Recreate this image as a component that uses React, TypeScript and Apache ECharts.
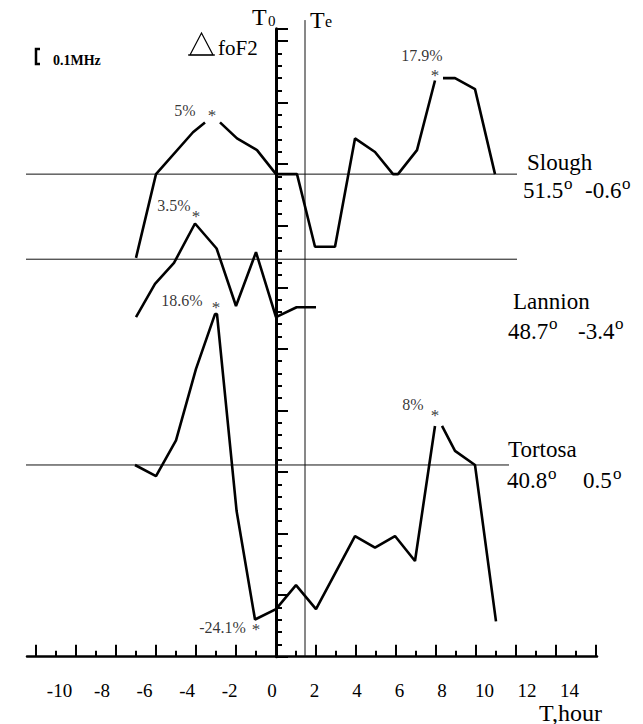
import React, { useEffect, useRef } from "react";
import * as echarts from "echarts";

// ---- axis ticks / labels ----
const tallTicks = [-12, -10, -8, -6, -4, -2, 0, 2, 4, 6, 8, 10, 12, 14, 16];
const shortTicks = [-11, -9, -7, -5, -3, -1, 1, 3, 5, 7, 9, 11, 13, 15];
const hourLabels = [-10, -8, -6, -4, -2, 0, 2, 4, 6, 8, 10, 12, 14];

// ---- stations ----
const stations = ["Slough", "Lannion", "Tortosa"];
const stationLat = ["51.5", "48.7", "40.8"];
const stationLon = ["-0.6", "-3.4", "0.5"];

// ΔfoF2 (MHz) relative to each station's zero line; null = gap at the asterisk
const sloughHours = [-7.0, -6.0, -4.15, -3.55, -3.2, -2.8, -1.95, -0.95, 0, 1.05, 1.95, 2.95, 3.95, 4.95, 5.85, 6.1, 7.05, 7.95, 8.15, 8.35, 8.95, 9.95, 10.95];
const sloughDelta = [-0.68, 0, 0.34, 0.42, null, 0.42, 0.29, 0.195, 0, 0, -0.59, -0.59, 0.29, 0.18, 0, 0, 0.195, 0.76, null, 0.78, 0.78, 0.69, 0];

const lannionHours = [-7.0, -6.05, -5.1, -4.05, -2.97, -2.0, -1.0, 0, 1.03, 2.0];
const lannionDelta = [-0.47, -0.2, -0.03, 0.29, 0.087, -0.38, 0.057, -0.47, -0.39, -0.39];

const tortosaHours = [-7.05, -6.0, -5.0, -4.0, -3.05, -2.95, -1.97, -1.05, 0, 1.0, 2.0, 3.95, 4.95, 5.95, 6.95, 7.95, 8.15, 8.3, 8.95, 9.95, 11.0];
const tortosaDelta = [0, -0.09, 0.2, 0.78, 1.225, 1.225, -0.374, -1.255, -1.17, -0.976, -1.17, -0.577, -0.672, -0.577, -0.78, 0.317, null, 0.317, 0.114, 0, -1.27];

// zero-line level of each station on the stacked vertical scale (MHz)
const baselineLevels = [3.919, 3.228, 1.557];
const baselineStart = [-13.15, -12.95, -12.7];
const baselineEnd = [12.05, 12.05, 11.65];
const teHour = 1.45;
const teTop = 5.17;

// peak annotations
const peakLabels = ["5%", "17.9%", "3.5%", "18.6%", "8%", "-24.1%"];
const starHours = [-3.2, 7.95, -4.0, -3.0, 7.95, -1.0];
const starLevels = [4.415, 4.74, 3.593, 2.854, 1.976, 0.236];
const labelHours = [-4.55, 7.3, -5.1, -4.7, 6.85, -2.675];
const labelLevels = [4.439, 4.88, 3.667, 2.894, 2.049, 0.236];

const SERIF = "Liberation Serif";

function build(hours: number[], delta: (number | null)[], base: number) {
  return hours.map((h, i) => (delta[i] == null ? [h, "-"] : [h, +(base + (delta[i] as number)).toFixed(4)]));
}

function txt(text: string, x: number, y: number, size: number, extra: any = {}) {
  return {
    type: "text",
    x,
    y,
    silent: true,
    style: { text, fontSize: size, fontFamily: SERIF, fill: "#000", align: "left", verticalAlign: "middle", ...extra },
  };
}

export default function App() {
  const ref = useRef<HTMLDivElement>(null);
  useEffect(() => {
    if (!ref.current) return;
    const chart = echarts.init(ref.current, undefined, { renderer: "svg" });

    const deltas = [
      build(sloughHours, sloughDelta, baselineLevels[0]),
      build(lannionHours, lannionDelta, baselineLevels[1]),
      build(tortosaHours, tortosaDelta, baselineLevels[2]),
    ];

    const series: any[] = [];
    stations.forEach((name, i) => {
      series.push({
        name: name + " zero",
        type: "line",
        clip: false,
        silent: true,
        symbol: "none",
        lineStyle: { color: "#111", width: 1 },
        data: [
          [baselineStart[i], baselineLevels[i]],
          [baselineEnd[i], baselineLevels[i]],
        ],
      });
    });
    series.push({
      name: "Te",
      type: "line",
      clip: false,
      silent: true,
      symbol: "none",
      lineStyle: { color: "#111", width: 1 },
      data: [
        [teHour, 0],
        [teHour, teTop],
      ],
    });
    stations.forEach((name, i) => {
      series.push({
        name,
        type: "line",
        clip: false,
        silent: true,
        symbol: "none",
        connectNulls: false,
        lineStyle: { color: "#000", width: 2.6 },
        data: deltas[i],
      });
    });
    const annLabel = {
      show: true,
      position: "inside",
      fontFamily: SERIF,
      fontSize: 16,
      color: "#000",
      textBorderWidth: 0,
      textBorderColor: "transparent",
      textShadowBlur: 0,
    };
    series.push({
      name: "stars",
      type: "scatter",
      silent: true,
      clip: false,
      symbolSize: 0,
      itemStyle: { color: "#000" },
      data: starHours.map((h, i) => [h, starLevels[i]]),
      label: { ...annLabel, formatter: "*", fontSize: 17, offset: [0, 2] },
    });
    series.push({
      name: "percent",
      type: "scatter",
      silent: true,
      clip: false,
      symbolSize: 0,
      itemStyle: { color: "#000" },
      data: labelHours.map((h, i) => [h, labelLevels[i]]),
      label: { ...annLabel, formatter: (p: any) => peakLabels[p.dataIndex] },
    });

    const graphic: any[] = [
      txt("T", 252, 16.5, 24),
      txt("0", 268, 21, 15),
      txt("T", 310, 19.8, 24),
      txt("e", 325, 21.5, 16),
      txt("foF2", 218, 47.5, 21),
      {
        type: "polygon",
        silent: true,
        shape: { points: [[190, 55], [201.5, 33], [213, 55]] },
        style: { fill: "none", stroke: "#000", lineWidth: 1.2 },
      },
      {
        type: "line",
        silent: true,
        shape: { x1: 188, y1: 55, x2: 215, y2: 55 },
        style: { stroke: "#000", lineWidth: 1.2 },
      },
      {
        type: "polyline",
        silent: true,
        shape: { points: [[40, 49], [36, 49], [36, 64], [40, 64]] },
        style: { fill: "none", stroke: "#000", lineWidth: 2.5 },
      },
      txt("0.1MHz", 53, 60, 14, { fontWeight: "bold" }),
      txt("T,hour", 539, 712.5, 24),
    ];

    const nameX = [527, 513, 508];
    const nameY = [162, 301.5, 449.5];
    const latX = [523, 508, 507];
    const lonX = [585, 578, 583];
    const coordY = [190.5, 331, 480.5];
    stations.forEach((name, i) => {
      graphic.push(txt(name, nameX[i], nameY[i], 23));
      graphic.push(txt(stationLat[i], latX[i], coordY[i], 23));
      graphic.push(txt("o", latX[i] + 41, coordY[i] - 7.5, 17));
      graphic.push(txt(stationLon[i], lonX[i], coordY[i], 23));
      const lonW = stationLon[i].startsWith("-") ? 36 : 29;
      graphic.push(txt("o", lonX[i] + lonW + 1, coordY[i] - 7.5, 17));
    });

    const baseX = {
      type: "value",
      min: -12.45,
      max: 16.05,
      position: "bottom",
      splitLine: { show: false },
      axisLabel: { show: false },
    };

    chart.setOption({
      animation: false,
      backgroundColor: "#fff",
      grid: { left: 27, right: 46, top: 28.7, bottom: 67.3, outerBoundsMode: "none", containLabel: false },
      xAxis: [
        {
          ...baseX,
          axisLine: { show: true, onZero: false, lineStyle: { color: "#000", width: 2.5 } },
          axisTick: { show: true, inside: true, length: 12, customValues: tallTicks, lineStyle: { color: "#000", width: 2 } },
        },
        {
          ...baseX,
          axisLine: { show: false, onZero: false },
          axisTick: { show: true, inside: true, length: 6, customValues: shortTicks, lineStyle: { color: "#000", width: 2 } },
        },
        {
          type: "value",
          min: -11.53,
          max: 15.29,
          position: "bottom",
          splitLine: { show: false },
          axisLine: { show: false, onZero: false },
          axisTick: { show: false },
          axisLabel: {
            show: true,
            customValues: hourLabels,
            margin: 24,
            fontFamily: SERIF,
            fontSize: 19,
            color: "#000",
          },
        },
      ],
      yAxis: {
        type: "value",
        min: 0,
        max: 5.1,
        interval: 0.5,
        axisLine: { show: true, onZero: true, onZeroAxisIndex: 0, lineStyle: { color: "#000", width: 3 } },
        axisTick: { show: true, inside: true, length: 12, lineStyle: { color: "#000", width: 2 } },
        minorTick: { show: true, splitNumber: 5, length: 6, lineStyle: { color: "#000", width: 2 } },
        axisLabel: { show: false },
        splitLine: { show: false },
        minorSplitLine: { show: false },
      },
      series,
      graphic,
    });

    return () => chart.dispose();
  }, []);

  return <div ref={ref} style={{ position: "absolute", left: 0, top: 0, width: 643, height: 724 }} />;
}
